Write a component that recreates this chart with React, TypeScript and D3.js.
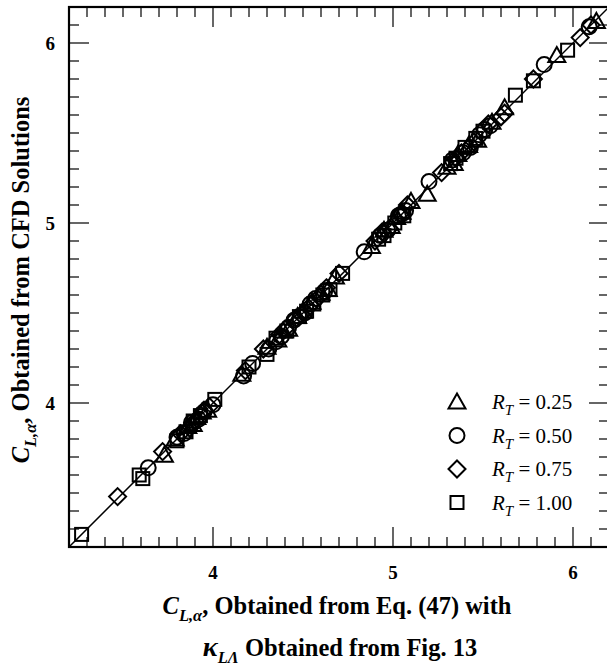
import React from "react"
import * as d3 from "d3"

// data: [predicted (Eq. 47), CFD]
const rt025 = [
  [3.73, 3.71], [3.79, 3.8], [3.86, 3.87], [3.89, 3.88], [3.91, 3.92], [3.94, 3.95], [3.97, 3.96],
  [4.16, 4.16], [4.3, 4.31], [4.36, 4.35], [4.39, 4.4], [4.42, 4.41], [4.47, 4.48], [4.5, 4.51],
  [4.55, 4.56], [4.6, 4.61], [4.64, 4.63], [4.68, 4.7], [4.88, 4.87], [4.95, 4.96], [4.99, 4.98],
  [5.02, 5.03], [5.05, 5.06], [5.1, 5.12], [5.19, 5.16], [5.3, 5.31], [5.34, 5.33], [5.36, 5.38],
  [5.42, 5.43], [5.47, 5.46], [5.55, 5.56], [5.62, 5.64], [5.91, 5.93], [6.13, 6.12],
]
const rt050 = [
  [3.64, 3.64], [3.8, 3.81], [3.84, 3.83], [3.88, 3.89], [3.92, 3.91], [3.95, 3.95], [4.0, 3.99],
  [4.17, 4.15], [4.22, 4.22], [4.31, 4.3], [4.35, 4.34], [4.38, 4.37], [4.42, 4.42], [4.45, 4.46],
  [4.51, 4.5], [4.54, 4.55], [4.57, 4.58], [4.62, 4.62], [4.84, 4.84], [4.93, 4.93], [4.97, 4.96],
  [5.03, 5.04], [5.05, 5.05], [5.07, 5.07], [5.2, 5.23], [5.33, 5.35], [5.39, 5.39], [5.43, 5.42],
  [5.48, 5.49], [5.51, 5.52], [5.54, 5.54], [5.84, 5.88], [6.09, 6.09],
]
const rt075 = [
  [3.47, 3.48], [3.72, 3.73], [3.82, 3.83], [3.87, 3.86], [3.9, 3.9], [3.95, 3.96], [3.98, 3.98],
  [4.18, 4.18], [4.28, 4.3], [4.37, 4.38], [4.4, 4.41], [4.46, 4.47], [4.49, 4.49], [4.53, 4.53],
  [4.59, 4.59], [4.63, 4.64], [4.7, 4.72], [4.9, 4.9], [4.94, 4.95], [4.98, 4.97], [5.04, 5.05],
  [5.08, 5.1], [5.27, 5.28], [5.35, 5.36], [5.38, 5.39], [5.45, 5.45], [5.53, 5.55], [5.6, 5.59],
  [5.62, 5.61], [5.78, 5.8], [6.04, 6.03], [6.1, 6.1],
]
const rt100 = [
  [3.27, 3.27], [3.59, 3.6], [3.61, 3.58], [3.8, 3.79], [3.85, 3.84], [3.89, 3.9], [3.93, 3.93],
  [4.01, 4.02], [4.2, 4.2], [4.3, 4.27], [4.35, 4.36], [4.41, 4.4], [4.48, 4.48], [4.52, 4.51],
  [4.56, 4.55], [4.61, 4.6], [4.65, 4.63], [4.72, 4.72], [4.92, 4.91], [4.95, 4.93], [5.01, 5.0],
  [5.06, 5.04], [5.32, 5.33], [5.35, 5.36], [5.4, 5.42], [5.46, 5.47], [5.5, 5.51], [5.68, 5.71],
  [5.78, 5.79], [5.97, 5.96],
]
const seriesLabels = ["0.25", "0.50", "0.75", "1.00"]
const majorTicks = [4, 5, 6]

const W = 607, H = 668
const left = 69, right = 609, top = 7, bottom = 547
const serif = "'Liberation Serif', 'Times New Roman', serif"

function Marker({ kind, x, y }) {
  const st = { fill: "none", stroke: "#000", strokeWidth: 2 }
  if (kind === 0) {
    const p = d3.path()
    p.moveTo(x, y - 8.5); p.lineTo(x + 8.5, y + 6.5); p.lineTo(x - 8.5, y + 6.5); p.closePath()
    return <path d={p.toString()} {...st} />
  }
  if (kind === 1) return <circle cx={x} cy={y} r={7.5} {...st} />
  if (kind === 2) {
    const p = d3.path()
    p.moveTo(x, y - 8.5); p.lineTo(x + 8.5, y); p.lineTo(x, y + 8.5); p.lineTo(x - 8.5, y); p.closePath()
    return <path d={p.toString()} {...st} />
  }
  return <rect x={x - 6.5} y={y - 6.5} width={13} height={13} {...st} />
}

export default function App() {
  const x = d3.scaleLinear().domain([3.2, 6.2]).range([left, right])
  const y = d3.scaleLinear().domain([3.2, 6.2]).range([bottom, top])
  const minor = d3.range(32, 62).map((d) => d / 10)
  const series = [rt025, rt050, rt075, rt100]

  return (
    <svg width={W} height={H} style={{ position: "absolute", left: 0, top: 0, background: "#fff" }}
      fontFamily={serif}>
      {/* ticks, inward on all four sides */}
      {minor.map((t) => {
        const isMajor = majorTicks.some((m) => Math.abs(m - t) < 1e-6)
        const len = isMajor ? 20 : 10
        return (
          <g key={t} stroke="#000" strokeWidth={1.2}>
            <line x1={x(t)} x2={x(t)} y1={bottom} y2={bottom - len} />
            <line x1={x(t)} x2={x(t)} y1={top} y2={top + len} />
            <line x1={left} x2={left + len} y1={y(t)} y2={y(t)} />
            <line x1={right} x2={right - len} y1={y(t)} y2={y(t)} />
          </g>
        )
      })}
      <rect x={left} y={top} width={right - left} height={bottom - top} fill="none" stroke="#000" strokeWidth={2.2} />

      {/* tick labels */}
      {majorTicks.map((t) => (
        <text key={"x" + t} x={x(t)} y={bottom + 32} textAnchor="middle" fontWeight="bold" fontSize={19}>{t}</text>
      ))}
      {majorTicks.map((t) => (
        <text key={"y" + t} x={left - 14} y={y(t) + 7} textAnchor="end" fontWeight="bold" fontSize={19}>{t}</text>
      ))}

      {/* diagonal */}
      <line x1={x(3.2)} y1={y(3.2)} x2={x(6.2)} y2={y(6.2)} stroke="#000" strokeWidth={1.5} />

      {series.map((s, i) => (
        <g key={i}>
          {s.map((d, j) => <Marker key={j} kind={i} x={x(d[0])} y={y(d[1])} />)}
        </g>
      ))}

      {/* legend */}
      {seriesLabels.map((lab, i) => {
        const ly = 402 + i * 33.5
        return (
          <g key={lab}>
            <Marker kind={i} x={457} y={ly} />
            <text x={492} y={ly + 7} fontSize={21}>
              <tspan fontStyle="italic">R</tspan>
              <tspan fontStyle="italic" fontSize={15} dy={6}>T</tspan>
              <tspan dy={-6}>{" = " + lab}</tspan>
            </text>
          </g>
        )
      })}

      {/* axis titles */}
      <text x={337} y={614} textAnchor="middle" fontWeight="bold" fontSize={24.5}>
        <tspan fontStyle="italic">C</tspan>
        <tspan fontStyle="italic" fontSize={16.5} dy={7}>L,α</tspan>
        <tspan dy={-7}>, Obtained from Eq. (47) with</tspan>
      </text>
      <text x={340} y={656} textAnchor="middle" fontWeight="bold" fontSize={24.5}>
        <tspan fontStyle="italic" fontSize={28}>κ</tspan>
        <tspan fontStyle="italic" fontSize={16.5} dy={7}>LΛ</tspan>
        <tspan dy={-7}> Obtained from Fig. 13</tspan>
      </text>
      <text transform="translate(29,280) rotate(-90)" textAnchor="middle" fontWeight="bold" fontSize={24.5}>
        <tspan fontStyle="italic">C</tspan>
        <tspan fontStyle="italic" fontSize={16.5} dy={7}>L,α</tspan>
        <tspan dy={-7}>, Obtained from CFD Solutions</tspan>
      </text>
    </svg>
  )
}
